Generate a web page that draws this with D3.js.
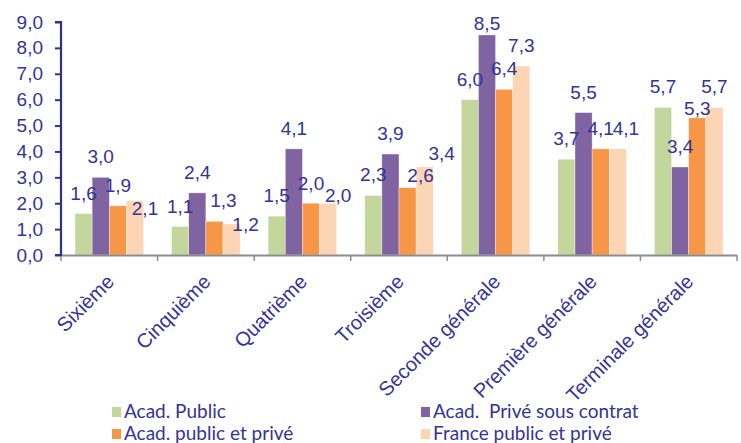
<!DOCTYPE html>
<html>
<head>
<meta charset="utf-8">
<script src="https://cdn.jsdelivr.net/npm/d3@7"></script>
<style>
  body { margin: 0; background: #fff; }
  #chart-container { width: 741px; height: 443px; }
</style>
</head>
<body>
<div id="chart-container"></div>
<script>
// Data
const categories = ["Sixième", "Cinquième", "Quatrième", "Troisième", "Seconde générale", "Première générale", "Terminale générale"];
const seriesNames = ["Acad. Public", "Acad.  Privé sous contrat", "Acad. public et privé", "France public et privé"];
const acadPublic = [1.6, 1.1, 1.5, 2.3, 6.0, 3.7, 5.7];
const acadPrive = [3.0, 2.4, 4.1, 3.9, 8.5, 5.5, 3.4];
const acadPublicPrive = [1.9, 1.3, 2.0, 2.6, 6.4, 4.1, 5.3];
const francePublicPrive = [2.1, 1.2, 2.0, 3.4, 7.3, 4.1, 5.7];
const yTicks = [0, 1, 2, 3, 4, 5, 6, 7, 8, 9];

const seriesValues = [acadPublic, acadPrive, acadPublicPrive, francePublicPrive];
const colors = ["#c3d69b", "#8064a2", "#f79646", "#fcd5b5"];
const textColor = "#333399";

// Label nudges [dx, dy] (the labels were moved by hand in the original)
const labelNudge = [
  [[0, 0], [0, 0], [0, 0], [0, 0], [0, 0], [0, 0], [0, 0]],
  [[0, 0], [0, 0], [0, 0], [0, 0], [0, 9], [0, 0], [0, 0]],
  [[0, 0], [9, 0], [0, 1], [13, 8], [0, 0], [0, 0], [0, 11]],
  [[10, 28], [14, 21], [10, 13], [17, 7], [0, 0], [8, 0], [0, 0]]
];

const x0 = 61, x1 = 737, yTop = 22, yBottom = 255;

const svg = d3
  .select("#chart-container")
  .append("svg")
  .attr("width", 741)
  .attr("height", 443);

// Scales
const xScale = d3
  .scaleBand()
  .domain(categories)
  .range([x0, x1])
  .paddingInner(0.29)
  .paddingOuter(0.145);
const xSub = d3
  .scaleBand()
  .domain(d3.range(seriesNames.length))
  .range([0, xScale.bandwidth()]);
const yScale = d3.scaleLinear().domain([0, 9]).range([yBottom, yTop]);

const fmt = (v) => d3.format(".1f")(v).replace(".", ",");

// Bars
seriesValues.forEach((vals, s) => {
  svg
    .append("g")
    .selectAll("rect")
    .data(vals)
    .join("rect")
    .attr("x", (d, i) => xScale(categories[i]) + xSub(s))
    .attr("y", (d) => yScale(d))
    .attr("width", xSub.bandwidth())
    .attr("height", (d) => yBottom - yScale(d))
    .attr("fill", colors[s])
    .attr("stroke", "#fff")
    .attr("stroke-opacity", 0.6)
    .attr("stroke-width", 0.6);
});

// X axis (grey, ticks at category boundaries)
const xAxisGroup = svg.append("g").attr("stroke", "#8c8c8c");
xAxisGroup
  .append("line")
  .attr("x1", x0)
  .attr("x2", x1)
  .attr("y1", yBottom + 0.5)
  .attr("y2", yBottom + 0.5)
  .attr("stroke-width", 2);
const step = xScale.step();
xAxisGroup
  .selectAll(".xtick")
  .data(d3.range(categories.length + 1))
  .join("line")
  .attr("class", "xtick")
  .attr("x1", (i) => x0 + i * step)
  .attr("x2", (i) => x0 + i * step)
  .attr("y1", yBottom)
  .attr("y2", yBottom + 6)
  .attr("stroke-width", 1.5);

// Category labels
svg
  .append("g")
  .selectAll("text")
  .data(categories)
  .join("text")
  .attr("transform", (d) => `translate(${xScale(d) + xScale.bandwidth() / 2 + 6},${yBottom + 28}) rotate(-45)`)
  .attr("text-anchor", "end")
  .attr("font-family", "Liberation Sans, Arial, sans-serif")
  .attr("font-size", 20)
  .attr("fill", textColor)
  .text((d) => d);

// Y axis
const yAxisGroup = svg
  .append("g")
  .attr("transform", `translate(${x0},0)`)
  .call(d3.axisLeft(yScale).tickValues(yTicks).tickSize(6).tickPadding(12).tickFormat(fmt));
yAxisGroup.select(".domain").attr("stroke", "#2e3192").attr("stroke-width", 2.2).attr("d", `M-6,${yTop}H0V${yBottom}H-6`);
yAxisGroup.selectAll(".tick line").attr("stroke", "#2e3192").attr("stroke-width", 2);
yAxisGroup
  .selectAll(".tick text")
  .attr("fill", textColor)
  .attr("font-family", "Liberation Sans, Arial, sans-serif")
  .attr("font-size", 19);

// Value labels
seriesValues.forEach((vals, s) => {
  svg
    .append("g")
    .selectAll("text")
    .data(vals)
    .join("text")
    .attr("x", (d, i) => xScale(categories[i]) + xSub(s) + xSub.bandwidth() / 2 + labelNudge[s][i][0])
    .attr("y", (d, i) => yScale(d) - 14 + labelNudge[s][i][1])
    .attr("text-anchor", "middle")
    .attr("font-family", "Liberation Sans, Arial, sans-serif")
    .attr("font-size", 19)
    .attr("fill", textColor)
    .text((d) => fmt(d));
});

// Legend
const legendPos = [[112, 412], [421, 412], [112, 434], [421, 434]];
const legend = svg
  .append("g")
  .selectAll("g")
  .data(seriesNames)
  .join("g")
  .attr("transform", (d, i) => `translate(${legendPos[i][0]},${legendPos[i][1]})`);
legend
  .append("rect")
  .attr("x", 0)
  .attr("y", -5)
  .attr("width", 9)
  .attr("height", 10)
  .attr("fill", (d, i) => colors[i]);
legend
  .append("text")
  .attr("x", 12)
  .attr("y", 6)
  .attr("font-family", "Lato, sans-serif")
  .attr("font-size", 19)
  .attr("fill", textColor)
  .style("white-space", "pre")
  .text((d) => d);
</script>
</body>
</html>
